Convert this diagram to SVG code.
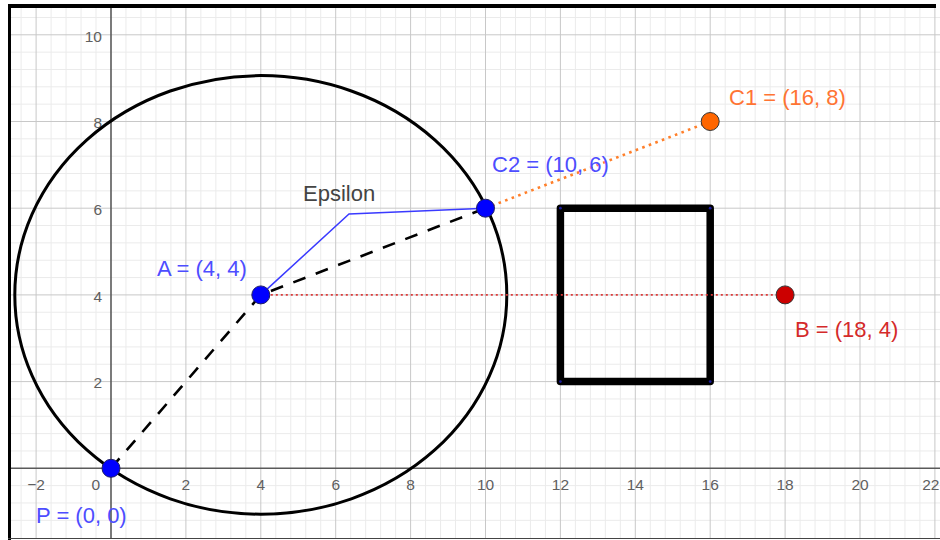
<svg xmlns="http://www.w3.org/2000/svg" width="940" height="540" viewBox="0 0 940 540">
<style>
.minor{stroke:#ebebeb;stroke-width:1;fill:none}
.major{stroke:#c8c8c8;stroke-width:1;fill:none}
.axis{stroke:#5a5a5a;stroke-width:1.6;fill:none}
.tick{font-family:"Liberation Sans",Arial,sans-serif;font-size:15.5px;fill:#606060}
.lbl{font-family:"Liberation Sans",Arial,sans-serif;font-size:22px}
.blue{fill:#4d4dff}
.pt{stroke:#1f1f66;stroke-width:1}
</style>
<rect x="0" y="0" width="940" height="540" fill="#fff"/>
<g id="grid">
<path class="minor" d="M21.12 8V538M51.08 8V538M66.06 8V538M81.04 8V538M96.02 8V538M125.98 8V538M140.96 8V538M155.94 8V538M170.92 8V538M200.88 8V538M215.86 8V538M230.84 8V538M245.82 8V538M275.78 8V538M290.76 8V538M305.74 8V538M320.72 8V538M350.68 8V538M365.66 8V538M380.64 8V538M395.62 8V538M425.58 8V538M440.56 8V538M455.54 8V538M470.52 8V538M500.48 8V538M515.46 8V538M530.44 8V538M545.42 8V538M575.38 8V538M590.36 8V538M605.34 8V538M620.32 8V538M650.28 8V538M665.26 8V538M680.24 8V538M695.22 8V538M725.18 8V538M740.16 8V538M755.14 8V538M770.12 8V538M800.08 8V538M815.06 8V538M830.04 8V538M845.02 8V538M874.98 8V538M889.96 8V538M904.94 8V538M919.92 8V538
M11 17.46H940M11 52.14H940M11 69.48H940M11 86.82H940M11 104.16H940M11 138.84H940M11 156.18H940M11 173.52H940M11 190.86H940M11 225.54H940M11 242.88H940M11 260.22H940M11 277.56H940M11 312.24H940M11 329.58H940M11 346.92H940M11 364.26H940M11 398.94H940M11 416.28H940M11 433.62H940M11 450.96H940M11 485.64H940M11 502.98H940M11 520.32H940"/>
<path class="major" d="M36.1 8V538M185.9 8V538M260.8 8V538M335.7 8V538M410.6 8V538M485.5 8V538M560.4 8V538M635.3 8V538M710.2 8V538M785.1 8V538M860 8V538M934.9 8V538
M11 34.8H940M11 121.5H940M11 208.2H940M11 294.9H940M11 381.6H940"/>
<path class="axis" d="M11 468.3H940M111 8V538"/>
</g>
<g id="ticks" class="tick">
<g text-anchor="middle">
<text x="36.1" y="490">−2</text>
<text x="185.9" y="490">2</text>
<text x="260.8" y="490">4</text>
<text x="335.7" y="490">6</text>
<text x="410.6" y="490">8</text>
<text x="485.5" y="490">10</text>
<text x="560.4" y="490">12</text>
<text x="635.3" y="490">14</text>
<text x="710.2" y="490">16</text>
<text x="785.1" y="490">18</text>
<text x="860" y="490">20</text>
</g>
<text x="939.5" y="490" text-anchor="end">22</text>
<g text-anchor="end">
<text x="100" y="490">0</text>
<text x="102" y="41.5">10</text>
<text x="102" y="128.2">8</text>
<text x="102" y="214.9">6</text>
<text x="102" y="301.6">4</text>
<text x="102" y="388.3">2</text>
</g>
</g>
<g id="circle">
<ellipse cx="260.8" cy="294.9" rx="246" ry="219.3" fill="none" stroke="#000" stroke-width="3"/>
</g>
<g id="square">
<rect x="560.4" y="208.2" width="149.8" height="173.4" fill="none" stroke="#000" stroke-width="7.5" stroke-linejoin="round"/>
<g fill="#1a1a99">
<circle cx="560.4" cy="208.2" r="1.4"/><circle cx="710.2" cy="208.2" r="1.4"/><circle cx="560.4" cy="381.6" r="1.4"/><circle cx="710.2" cy="381.6" r="1.4"/>
</g>
</g>
<g id="connectors">
<path d="M260.8 294.9H785.1" stroke="#dd3a3a" stroke-width="1.6" stroke-dasharray="2 3" fill="none"/>
<path d="M485.5 208.2L710.2 121.5" stroke="#ff7f2a" stroke-width="2.6" stroke-dasharray="2.6 4.4" fill="none"/>
<path d="M111 468.3L260.8 294.9L485.5 208.2" stroke="#000" stroke-width="2.6" stroke-dasharray="13 11" fill="none"/>
<path id="epsilon-path" d="M260.8 294.9L349 214L485.5 208.2" stroke="#3a3aff" stroke-width="1.5" fill="none"/>
</g>
<g id="epsilon"><text class="lbl" x="303" y="201" fill="#444" font-size="21px">Epsilon</text></g>
<g id="P"><circle class="pt" cx="111" cy="468.3" r="9" fill="#0000ff"/><text class="lbl blue" x="36" y="523">P = (0, 0)</text></g>
<g id="A"><circle class="pt" cx="260.8" cy="294.9" r="9" fill="#0000ff"/><text class="lbl blue" x="157" y="276">A = (4, 4)</text></g>
<g id="C2"><circle class="pt" cx="485.5" cy="208.2" r="9" fill="#0000ff"/><text class="lbl blue" x="492" y="172">C2 = (10, 6)</text></g>
<g id="C1"><circle cx="710.2" cy="121.5" r="9" fill="#ff6600" stroke="#333" stroke-width="1"/><text class="lbl" x="729" y="105" fill="#ff7433">C1 = (16, 8)</text></g>
<g id="B"><circle cx="785.1" cy="294.9" r="9" fill="#cc0000" stroke="#333" stroke-width="1"/><text class="lbl" x="795" y="337" fill="#d42a2a">B = (18, 4)</text></g>
<g id="frame">
<path d="M8 6H936" stroke="#000" stroke-width="4" fill="none"/>
<path d="M9.5 4V540" stroke="#000" stroke-width="3" fill="none"/>
<path d="M8 538.5H940" stroke="#444" stroke-width="1.2" fill="none"/>
</g>
</svg>
